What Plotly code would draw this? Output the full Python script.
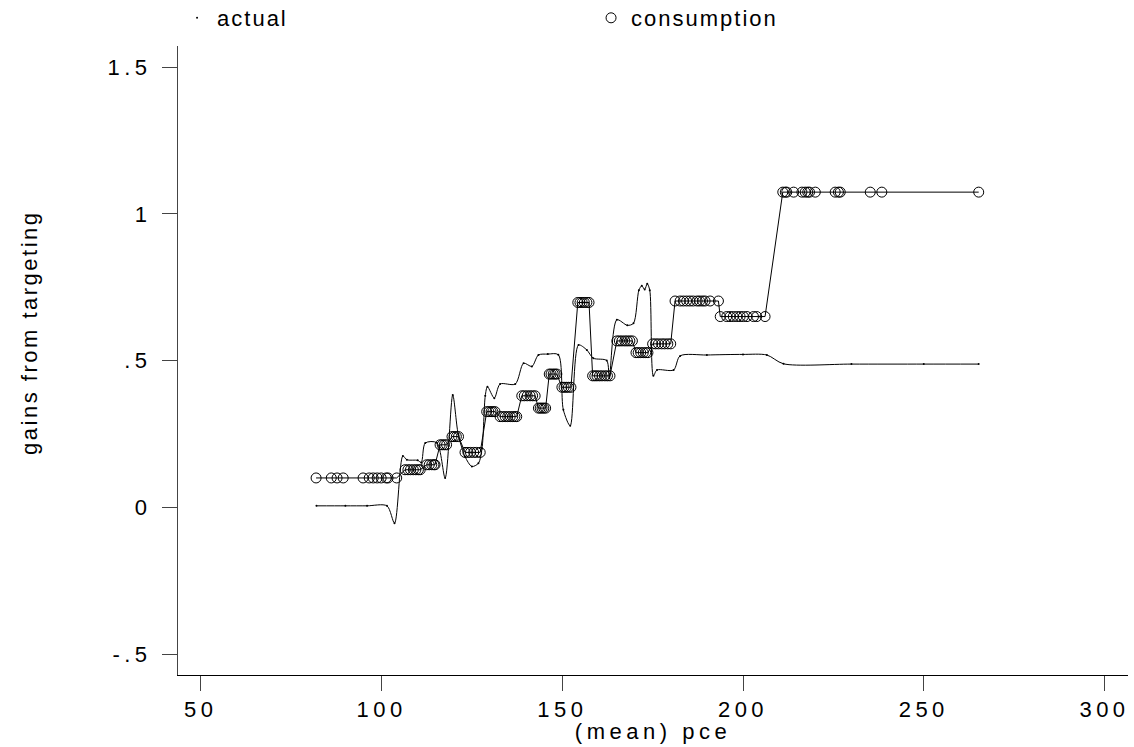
import plotly.graph_objects as go

# ---- data ----
cons_x = [81.9, 86.1, 87.7, 89.4, 94.9, 96.6, 97.7, 98.8, 99.9, 101.3, 101.8, 104.2,
          106.5, 107.3, 108.0, 108.8, 109.5, 110.2, 110.7,
          112.5, 113.2, 113.9, 114.5, 114.8,
          116.2, 116.8, 117.4, 118.0,
          119.5, 120.1, 120.7, 121.3,
          123.1, 123.9, 124.6, 125.5, 126.3, 127.3,
          129.1, 129.7, 130.3, 130.8, 131.4,
          132.8, 133.5, 134.2, 134.9, 135.6, 136.3, 136.9, 137.4,
          138.8, 139.5, 140.3, 141.1, 141.8, 142.5,
          143.4, 143.9, 144.4, 144.9, 145.4,
          146.4, 146.9, 147.5, 148.0, 148.5,
          149.9, 150.5, 151.1, 151.7, 152.4,
          154.3, 154.9, 155.5, 156.1, 156.8, 157.4,
          158.4, 159.0, 159.6, 160.3, 161.0, 161.8, 162.5, 163.2,
          165.1, 165.8, 166.5, 167.3, 168.0, 168.7, 169.4,
          170.4, 171.0, 171.7, 172.4, 173.1, 173.7,
          175.0, 175.8, 176.6, 177.5, 178.3, 179.2, 180.0,
          181.2, 182.6, 183.5, 184.4, 185.3, 186.2, 187.3, 188.0, 188.8, 189.5, 190.9, 193.2,
          193.7, 195.5, 196.4, 197.3, 198.3, 199.2, 200.1, 201.1, 202.9, 203.8, 206.1,
          211.0, 211.7, 212.1, 214.0, 216.3, 217.2, 217.9, 218.4, 220.0, 225.5, 226.4, 226.9, 235.2, 238.4, 265.2]
cons_y = [0.100] * 12 + [0.128] * 7 + [0.145] * 5 + [0.213] * 4 + [0.241] * 4 + [0.187] * 6 \
    + [0.326] * 5 + [0.309] * 8 + [0.380] * 6 + [0.338] * 5 + [0.454] * 5 + [0.409] * 5 \
    + [0.698] * 6 + [0.448] * 8 + [0.567] * 7 + [0.527] * 6 + [0.557] * 7 + [0.703] * 12 \
    + [0.650] * 11 + [1.074] * 15

act_x = [82.0, 90.0, 96.0, 101.5, 103.6, 105.9, 107.0, 110.0, 111.0, 112.1, 115.3, 117.6,
         119.7, 121.2, 123.1, 125.0, 126.8, 127.8, 128.7, 129.3, 131.2, 132.8, 137.0, 139.3,
         141.6, 143.4, 146.0, 148.9, 150.3, 152.2, 154.5, 156.8, 158.6, 162.3, 163.0, 165.1,
         168.0, 169.7, 171.2, 172.0, 172.8, 173.5, 174.2, 175.2, 176.2, 180.8, 182.6, 190.0,
         200.0, 206.6, 211.2, 230.0, 250.0, 265.2]
act_y = [0.005, 0.005, 0.005, 0.005, -0.054, 0.175, 0.162, 0.160, 0.153, 0.219, 0.220, 0.100,
         0.383, 0.250, 0.173, 0.139, 0.150, 0.200, 0.380, 0.411, 0.372, 0.420, 0.420, 0.491,
         0.480, 0.519, 0.522, 0.520, 0.332, 0.278, 0.553, 0.536, 0.508, 0.500, 0.440, 0.639,
         0.620, 0.627, 0.740, 0.755, 0.742, 0.762, 0.740, 0.448, 0.468, 0.468, 0.516, 0.519,
         0.521, 0.519, 0.489, 0.488, 0.488, 0.488]

y_ticks = [-0.5, 0, 0.5, 1, 1.5]
y_ticktext = ["-.5", "0", ".5", "1", "1.5"]
x_ticks = [50, 100, 150, 200, 250, 300]

FONT = "Liberation Sans, Arial, Helvetica, sans-serif"

fig = go.Figure()
fig.add_trace(go.Scatter(x=act_x, y=act_y, mode="lines", line=dict(color="black", width=1, shape="spline", smoothing=0.8),
                         showlegend=False, legendgroup="a", hoverinfo="skip"))
fig.add_trace(go.Scatter(x=act_x, y=act_y, mode="markers", name="actual", legendgroup="a",
                         marker=dict(color="black", size=2, symbol="circle")))
fig.add_trace(go.Scatter(x=cons_x, y=cons_y, mode="lines", line=dict(color="black", width=1),
                         showlegend=False, legendgroup="c", hoverinfo="skip"))
fig.add_trace(go.Scatter(x=cons_x, y=cons_y, mode="markers", name="consumption", legendgroup="c",
                         marker=dict(color="black", size=10, symbol="circle-open", line=dict(width=1, color="black"))))

fig.update_layout(
    width=1134, height=747,
    margin=dict(l=178, r=6, t=46, b=72, autoexpand=False),
    paper_bgcolor="white", plot_bgcolor="white",
    font=dict(family=FONT, size=22, color="black"),
    showlegend=True,
    legend=dict(orientation="h", x=-0.001, xanchor="left", y=1.0445, yanchor="middle",
                entrywidth=369, entrywidthmode="pixels", font=dict(size=22), bgcolor="rgba(0,0,0,0)",
                itemsizing="trace"),
    xaxis=dict(range=[43.7, 306.5], tickvals=x_ticks, ticks="outside", ticklen=15, tickcolor="#444",
               showline=True, linecolor="black", linewidth=1, showgrid=False, zeroline=False,
               title=dict(text="(mean) pce", standoff=2, font=dict(size=22)), tickfont=dict(size=22)),
    yaxis=dict(range=[-0.5715, 1.572], tickvals=y_ticks, ticktext=y_ticktext, ticks="outside", ticklen=15,
               tickcolor="#444", showline=True, linecolor="#444", linewidth=1, showgrid=False, zeroline=False,
               ticklabelstandoff=6, tickfont=dict(size=22)),
    annotations=[dict(text="gains from targeting", textangle=-90, xref="paper", yref="paper",
                      x=-0.1558, y=0.5439, xanchor="center", yanchor="middle", showarrow=False,
                      font=dict(size=22))],
)

js = ("var st=document.createElement('style');"
      "st.innerHTML='.main-svg .xtick text, .main-svg .ytick text, .main-svg .g-xtitle text{letter-spacing:4.5px}"
      " .main-svg .legendtext{letter-spacing:2px}"
      " .main-svg .annotation-text{letter-spacing:2.5px}';"
      "document.head.appendChild(st);")
fig.write_html("out.html", post_script=js)
